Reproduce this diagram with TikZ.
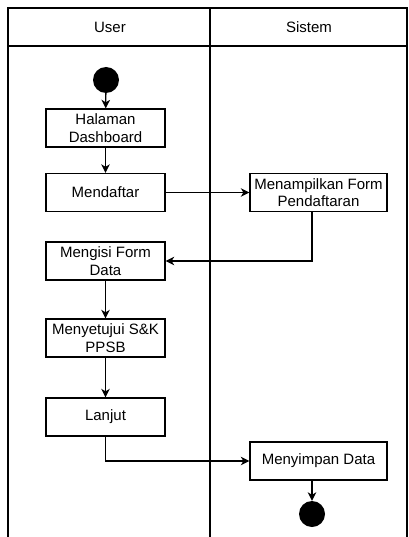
\documentclass[tikz,border=0pt]{standalone}
\usepackage{fontspec}
\setmainfont{Liberation Sans}
\usetikzlibrary{arrows.meta, calc}
\tikzset{
    lane/.style={draw, line width=1.3pt},
    header/.style={font=\fontsize{15}{17}\selectfont},
    activity/.style={
        rectangle, draw, line width=1.3pt,
        minimum width=119pt, minimum height=38pt,
        inner sep=1pt, align=center,
        font=\fontsize{15}{17.5}\selectfont
    },
    wide/.style={activity, minimum width=137pt},
    initial/.style={circle, fill=black, minimum size=26pt, inner sep=0pt},
    final/.style={circle, fill=black, minimum size=26pt, inner sep=0pt},
    flow/.style={draw,-{Stealth[length=8.5pt,width=8.5pt,inset=2.5pt]},line width=1.3pt}
}
\begin{document}
\begin{tikzpicture}[x=1pt, y=-1pt]
        \useasboundingbox (0,0) rectangle (408,537);
        % swimlanes
        \draw[lane] (8,537) -- (8,8) -- (407,8) -- (407,537);
        \draw[lane] (8,46) -- (407,46);
        \draw[lane] (210,8) -- (210,537);
        \node[header] (laneUser) at (110,27) {User};
        \node[header] (laneSistem) at (309,27) {Sistem};

        % user lane
        \node[initial] (start) at (106,80) {};
        \node[activity] (halaman) at (105.5,128) {Halaman\\Dashboard};
        \node[activity] (daftar) at (105.5,192.5) {Mendaftar};
        \node[activity] (isi) at (105.5,261) {Mengisi Form\\Data};
        \node[activity] (setuju) at (105.5,338) {Menyetujui S\&K\\PPSB};
        \node[activity] (lanjut) at (105.5,417) {Lanjut};

        % sistem lane
        \node[wide] (tampil) at (318.5,192.5) {Menampilkan Form\\Pendaftaran};
        \node[wide] (simpan) at (318.5,461) {Menyimpan Data};
        \node[final] (stop) at (312,514) {};

        \draw[flow] (start) -- (halaman);
        \draw[flow] (halaman) -- (daftar);
        \draw[flow] (daftar) -- (tampil);
        \draw[flow] (tampil.south -| stop) |- (isi.east);
        \draw[flow] (isi) -- (setuju);
        \draw[flow] (setuju) -- (lanjut);
        \draw[flow] (lanjut) |- (simpan.west);
        \draw[flow] (simpan.south -| stop) -- (stop);
    \end{tikzpicture}
\end{document}
